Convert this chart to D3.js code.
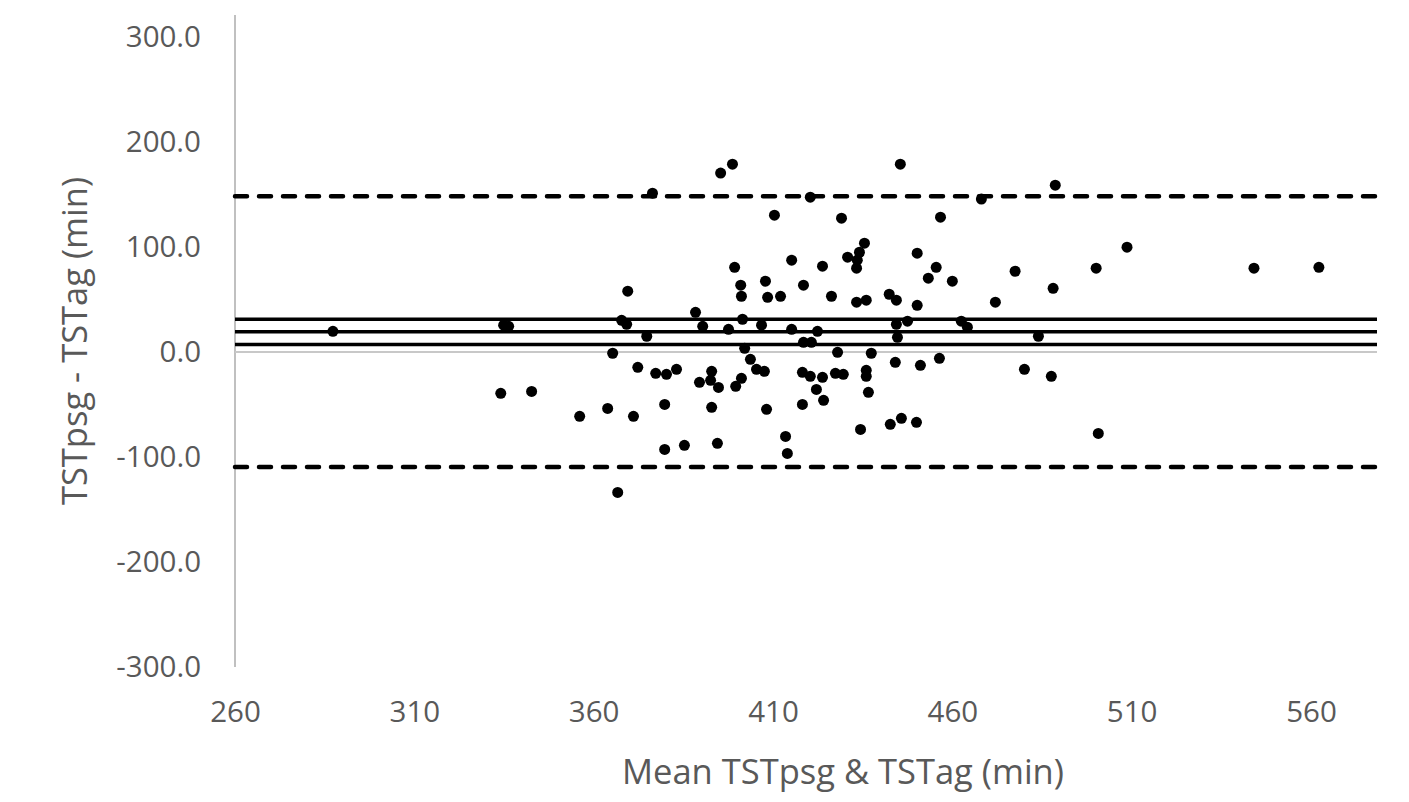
<!DOCTYPE html>
<html>
<head>
<meta charset="utf-8">
<script src="https://cdn.jsdelivr.net/npm/d3@7"></script>
<style>
  html, body { margin: 0; padding: 0; background: #ffffff; }
  svg { display: block; }
  .tick text { font-family: "Open Sans", "Liberation Sans", sans-serif; fill: #595959; }
</style>
</head>
<body>
<svg id="chart" width="1409" height="802"></svg>
<script>
// Mean of the two sleep-time measurements (min)
const meanTST = [
  287.3, 334.1, 334.9, 336.3, 342.7, 356.1, 363.9, 365.3, 366.7, 367.8,
  369.2, 369.5, 371.1, 372.3, 374.8, 376.4, 377.3, 380.3, 379.8, 379.8,
  383.1, 385.3, 388.4, 389.5, 390.4, 392.9, 392.6, 394.8, 392.9, 394.5,
  395.4, 398.7, 397.6, 399.3, 399.6, 401.2, 401.0, 401.2, 401.5, 402.1,
  403.7, 405.4, 407.6, 406.8, 407.9, 408.5, 408.2, 410.4, 412.1, 413.5,
  414.0, 415.2, 415.2, 418.5, 418.5, 420.7, 418.2, 420.4, 418.2, 420.4,
  422.4, 422.1, 423.8, 423.8, 424.1, 426.3, 428.0, 427.4, 429.6, 429.1,
  430.8, 433.3, 433.5, 434.1, 435.5, 433.3, 436.0, 434.4, 436.0, 436.0,
  436.6, 437.4, 442.4, 444.4, 442.7, 444.1, 444.4, 444.7, 445.5, 445.8,
  447.5, 450.2, 450.2, 450.0, 451.1, 453.3, 455.5, 456.4, 456.7, 460.0,
  462.5, 464.2, 468.1, 472.0, 477.5, 480.1, 484.0, 487.6, 488.1, 488.7,
  500.1, 500.7, 508.7, 544.1, 562.2
];

// Difference TSTpsg - TSTag (min), same order as meanTST
const diffTST = [
   19.7, -39.4,  25.5,  24.5, -37.5, -61.3, -53.7,  -1.2, -133.7, 30.2,
   26.4,  57.9, -61.3, -14.6,  15.0, 151.3, -20.3, -21.3, -49.9, -92.8,
  -16.5, -88.9,  37.8, -28.9,  24.5, -18.4, -27.0, -33.7, -52.7, -87.0,
  170.4, 178.9,  21.6,  80.7, -32.7, -25.1,  63.6,  53.1,  31.2,   3.5,
   -7.0, -16.5, -18.4,  25.5,  67.4,  52.1, -54.6, 130.3,  53.0, -80.4,
  -96.6,  87.4,  21.6,  63.6,   9.2,   9.2, -19.4, -23.2, -49.9, 147.5,
   19.7, -35.6,  81.7, -24.1, -46.0,  53.1,  -0.3, -20.3, -21.3, 127.5,
   90.3,  79.8,  87.4,  95.0, 103.6,  47.4,  49.3, -73.7, -17.4, -23.2,
  -38.4,  -1.2,  55.0,  49.3, -68.9,  -9.8,  26.4,  14.0, 178.9, -63.2,
   29.3,  94.1,  44.5, -67.0, -12.7,  70.3,  80.7,  -6.0, 128.4,  67.4,
   29.3,  23.6, 145.6,  47.4,  76.9, -16.5,  15.0, -23.2,  60.7, 158.9,
   79.8, -77.5,  99.8,  79.8,  80.7
];

// Bias with its 95% confidence interval, and limits of agreement
const biasLines = [31.2, 19.4, 7.2];
const limitLines = [148.3, -109.5];

const xTicks = [260, 310, 360, 410, 460, 510, 560];
const yTicks = [-300, -200, -100, 0, 100, 200, 300];

const xTitle = "Mean TSTpsg & TSTag (min)";
const yTitle = "TSTpsg - TSTag (min)";

const svg = d3.select("#chart");

const x = d3.scaleLinear().domain([260, 578.4]).range([235, 1377]);
const y = d3.scaleLinear().domain([-300, 300]).range([667, 37]);

// Vertical axis line (runs slightly above the top tick)
svg.append("line")
  .attr("x1", x(260)).attr("x2", x(260))
  .attr("y1", y(300) - 22).attr("y2", y(-300))
  .attr("stroke", "#c0c0c0").attr("stroke-width", 2);

// Horizontal axis line at zero
svg.append("line")
  .attr("x1", x(260)).attr("x2", x(578.4))
  .attr("y1", y(0)).attr("y2", y(0))
  .attr("stroke", "#c8c8c8").attr("stroke-width", 2);

// Y tick labels, one decimal with a plain hyphen for negatives
const yAxis = svg.append("g")
  .attr("transform", `translate(${x(260)},0)`)
  .call(d3.axisLeft(y).tickValues(yTicks).tickSize(0).tickPadding(34)
    .tickFormat(d => d.toFixed(1)));
yAxis.select(".domain").remove();
yAxis.selectAll("text").attr("font-size", 29.5);

// X tick labels (placed below the plot area)
const xAxis = svg.append("g")
  .attr("transform", `translate(0,${y(-300)})`)
  .call(d3.axisBottom(x).tickValues(xTicks).tickSize(0).tickPadding(34)
    .tickFormat(d => String(d)));
xAxis.select(".domain").remove();
xAxis.selectAll("text").attr("font-size", 29.5);

// Limits of agreement (dashed)
svg.append("g").selectAll("line")
  .data(limitLines)
  .join("line")
  .attr("x1", x(260)).attr("x2", x(578.4))
  .attr("y1", d => y(d)).attr("y2", d => y(d))
  .attr("stroke", "#000").attr("stroke-width", 4.5)
  .attr("stroke-dasharray", "12,12")
  .attr("stroke-linecap", "round");

// Bias and its confidence interval (solid)
svg.append("g").selectAll("line")
  .data(biasLines)
  .join("line")
  .attr("x1", x(260)).attr("x2", x(578.4))
  .attr("y1", d => y(d)).attr("y2", d => y(d))
  .attr("stroke", "#000").attr("stroke-width", 3.5);

// Data points
svg.append("g").selectAll("circle")
  .data(meanTST.map((m, i) => [m, diffTST[i]]))
  .join("circle")
  .attr("cx", d => x(d[0]))
  .attr("cy", d => y(d[1]))
  .attr("r", 5.5)
  .attr("fill", "#000");

// Axis titles
svg.append("text")
  .attr("x", 843).attr("y", 784)
  .attr("text-anchor", "middle")
  .attr("font-family", "'Open Sans', 'Liberation Sans', sans-serif")
  .attr("font-size", 34.5)
  .attr("fill", "#595959")
  .text(xTitle);

svg.append("text")
  .attr("transform", "translate(87,341) rotate(-90)")
  .attr("text-anchor", "middle")
  .attr("font-family", "'Open Sans', 'Liberation Sans', sans-serif")
  .attr("font-size", 34.5)
  .attr("fill", "#595959")
  .text(yTitle);
</script>
</body>
</html>
